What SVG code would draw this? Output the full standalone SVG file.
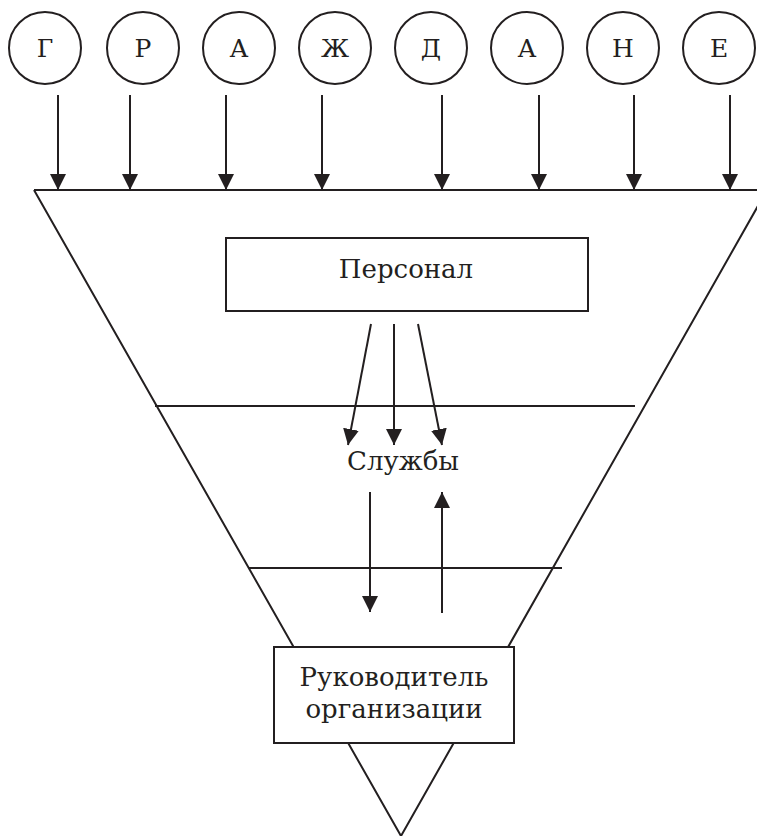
<svg xmlns="http://www.w3.org/2000/svg" width="757" height="836" viewBox="0 0 757 836">
<defs>
<style>
.ln{stroke:#231f20;stroke-width:2;fill:none}
.nd{stroke:#231f20;stroke-width:2;fill:#fff}
.tx{font-family:"DejaVu Serif","Liberation Serif",serif;font-size:26px;fill:#231f20;text-anchor:middle}
.lt{font-size:25px}
</style>
<marker id="ah" viewBox="0 0 16 16" refX="16" refY="8" markerWidth="16" markerHeight="16" markerUnits="userSpaceOnUse" orient="auto">
<path d="M0,0 L16,8 L0,16 Z" fill="#231f20"/>
</marker>
</defs>
<rect width="757" height="836" fill="#fff"/>
<g id="funnel">
<path class="ln" d="M34,190 L401,836 L767,190"/>
<line class="ln" x1="34" y1="190" x2="757" y2="190"/>
<line class="ln" x1="155" y1="406" x2="635" y2="406"/>
<line class="ln" x1="248" y1="568" x2="562" y2="568"/>
</g>
<g id="connectors">
<line class="ln" x1="58" y1="95" x2="58" y2="190" marker-end="url(#ah)"/>
<line class="ln" x1="130" y1="95" x2="130" y2="190" marker-end="url(#ah)"/>
<line class="ln" x1="226" y1="95" x2="226" y2="190" marker-end="url(#ah)"/>
<line class="ln" x1="322" y1="95" x2="322" y2="190" marker-end="url(#ah)"/>
<line class="ln" x1="442" y1="95" x2="442" y2="190" marker-end="url(#ah)"/>
<line class="ln" x1="539" y1="95" x2="539" y2="190" marker-end="url(#ah)"/>
<line class="ln" x1="634" y1="95" x2="634" y2="190" marker-end="url(#ah)"/>
<line class="ln" x1="730" y1="95" x2="730" y2="190" marker-end="url(#ah)"/>
<line class="ln" x1="371" y1="324" x2="348" y2="445" marker-end="url(#ah)"/>
<line class="ln" x1="394" y1="324" x2="394" y2="445" marker-end="url(#ah)"/>
<line class="ln" x1="418" y1="324" x2="442" y2="445" marker-end="url(#ah)"/>
<line class="ln" x1="370" y1="492" x2="370" y2="612" marker-end="url(#ah)"/>
<line class="ln" x1="442" y1="613" x2="442" y2="492" marker-end="url(#ah)"/>
</g>
<g id="n-g"><circle class="nd" cx="45" cy="48" r="36"/><text class="tx lt" x="45" y="57">Г</text></g>
<g id="n-r"><circle class="nd" cx="143" cy="48" r="36"/><text class="tx lt" x="143" y="57">Р</text></g>
<g id="n-a1"><circle class="nd" cx="239" cy="48" r="36"/><text class="tx lt" x="239" y="57">А</text></g>
<g id="n-zh"><circle class="nd" cx="335" cy="48" r="36"/><text class="tx lt" x="335" y="57">Ж</text></g>
<g id="n-d"><circle class="nd" cx="431" cy="48" r="36"/><text class="tx lt" x="431" y="57">Д</text></g>
<g id="n-a2"><circle class="nd" cx="527" cy="48" r="36"/><text class="tx lt" x="527" y="57">А</text></g>
<g id="n-n"><circle class="nd" cx="623" cy="48" r="36"/><text class="tx lt" x="623" y="57">Н</text></g>
<g id="n-e"><circle class="nd" cx="719" cy="48" r="36"/><text class="tx lt" x="719" y="57">Е</text></g>
<g id="personal"><rect class="nd" x="226" y="238" width="362" height="73"/><text class="tx" x="406" y="278">Персонал</text></g>
<g id="sluzhby"><text class="tx" x="403" y="470">Службы</text></g>
<g id="rukovoditel"><rect class="nd" x="274" y="647" width="240" height="96"/><text class="tx" x="394" y="686">Руководитель</text><text class="tx" x="394" y="718">организации</text></g>
</svg>
